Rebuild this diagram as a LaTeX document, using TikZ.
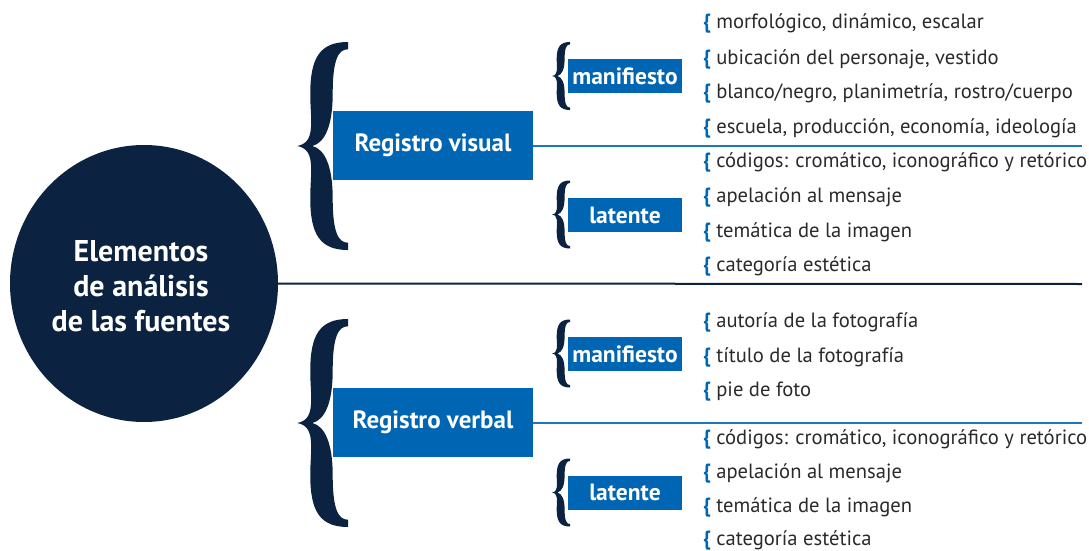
\documentclass[tikz,border=0pt]{standalone}
\usepackage{fontspec}
\usetikzlibrary{shapes.geometric}
\setmainfont{PT Sans}
\definecolor{navy}{HTML}{0B2340}
\definecolor{boxblue}{HTML}{0066B3}
\definecolor{lineblue}{HTML}{1C76C0}
\definecolor{txt}{HTML}{2A2A2A}
\newcommand\drawbrace[5]{%
  \fill[#5, shift={(#1,#2)}, xscale=#4, yscale=#3]
    (0,0) .. controls (0.38,0.03) and (0.26,0.25) .. (0.26,0.5)
    .. controls (0.26,0.85) and (0.45,1) .. (1,1) -- (1,0.93)
    .. controls (0.8,0.93) and (0.7,0.82) .. (0.7,0.5)
    .. controls (0.7,0.2) and (0.55,0.03) .. (0.3,0)
    .. controls (0.55,-0.03) and (0.7,-0.2) .. (0.7,-0.5)
    .. controls (0.7,-0.82) and (0.8,-0.93) .. (1,-0.93) -- (1,-1)
    .. controls (0.45,-1) and (0.26,-0.85) .. (0.26,-0.5)
    .. controls (0.26,-0.25) and (0.38,-0.03) .. (0,0) -- cycle;}
\begin{document}
\begin{tikzpicture}[x=1pt,y=-1pt,
  item/.style={anchor=base west, inner sep=0pt, text=txt, font=\fontsize{20.6}{22}\selectfont},
  regbox/.style={fill=boxblue, text=white, minimum width=200pt, minimum height=69pt, inner sep=0pt, font=\bfseries\fontsize{25}{27}\selectfont},
  subbox/.style={fill=boxblue, text=white, minimum width=114pt, minimum height=34pt, inner sep=0pt, font=\bfseries\fontsize{23.5}{25}\selectfont},
  blueline/.style={draw=lineblue, line width=2pt},
  navyline/.style={draw=navy, line width=2pt}]
\useasboundingbox (0,0) rectangle (1089,551);
% main line
\coordinate (mainend) at (1082,284);
\coordinate (visend) at (1082,145.5);
\coordinate (verend) at (1082,422.5);
\node[ellipse, fill=navy, minimum width=268pt, minimum height=277pt, inner sep=0pt] (c) at (144,283.5) {};
\draw[navyline] (c.east) -- (mainend);
\node[text=white, font=\bfseries\fontsize{30}{35}\selectfont, align=center, anchor=base] (ct) at (141,331) {Elementos\\de análisis\\de las fuentes};
% big braces
\drawbrace{297}{146}{104}{51}{navy}
\drawbrace{297}{423}{104}{51}{navy}
\node[regbox] (rv) at (433,145.5) {Registro visual};
\node[regbox] (rb) at (433,422.5) {Registro verbal};
\draw[blueline] (rv.east) -- (visend);
\draw[blueline] (rb.east) -- (verend);
% small braces
\drawbrace{552}{76}{34}{18}{navy}
\drawbrace{552}{214.5}{34}{18}{navy}
\drawbrace{552}{353.5}{34}{18}{navy}
\drawbrace{552}{492.5}{34}{18}{navy}
\node[subbox] (vm) at (625,76) {manifiesto};
\node[subbox] (vl) at (625,215) {latente};
\node[subbox] (bm) at (625,354) {manifiesto};
\node[subbox] (bl) at (625,492.5) {latente};
% items
\newcommand\bl{{\color{boxblue}\bfseries\{}\ }
\node[item] (v1) at (703,29) {\bl morfológico, dinámico, escalar};
\node[item] (v2) at (703,64) {\bl ubicación del personaje, vestido};
\node[item] (v3) at (703,99) {\bl blanco/negro, planimetría, rostro/cuerpo};
\node[item] (v4) at (703,133) {\bl escuela, producción, economía, ideología};
\node[item] (v5) at (703,167) {\bl códigos: cromático, iconográfico y retórico};
\node[item] (v6) at (703,202) {\bl apelación al mensaje};
\node[item] (v7) at (703,237) {\bl temática de la imagen};
\node[item] (v8) at (703,271) {\bl categoría estética};
\node[item] (b1) at (703,327) {\bl autoría de la fotografía};
\node[item] (b2) at (703,362) {\bl título de la fotografía};
\node[item] (b3) at (703,396) {\bl pie de foto};
\node[item] (b4) at (703,444) {\bl códigos: cromático, iconográfico y retórico};
\node[item] (b5) at (703,478) {\bl apelación al mensaje};
\node[item] (b6) at (703,512) {\bl temática de la imagen};
\node[item] (b7) at (703,545) {\bl categoría estética};
\end{tikzpicture}
\end{document}
